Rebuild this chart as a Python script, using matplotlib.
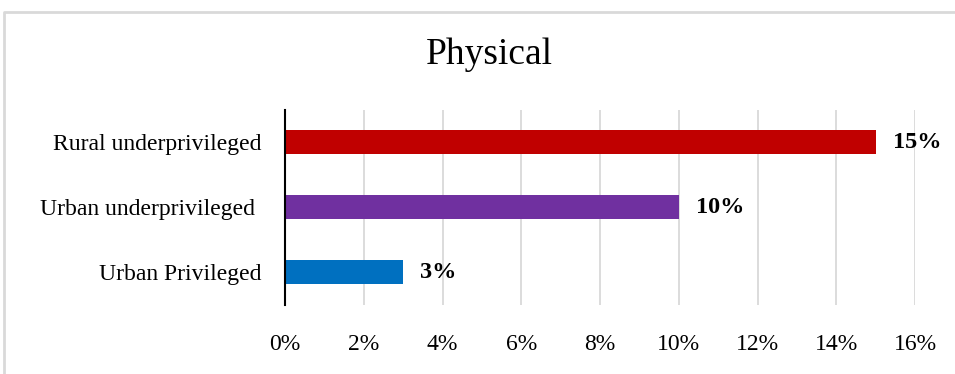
import matplotlib
matplotlib.use("Agg")
import matplotlib.pyplot as plt
from matplotlib.lines import Line2D
from matplotlib.ticker import FuncFormatter

plt.rcParams["font.family"] = ["Liberation Serif", "DejaVu Serif"]

# data (bottom to top as drawn)
groups = ["Urban Privileged", "Urban underprivileged ", "Rural underprivileged"]
values = [3, 10, 15]
colors = ["#0070C0", "#7030A0", "#C00000"]
xticks = [0, 2, 4, 6, 8, 10, 12, 14, 16]

fig = plt.figure(figsize=(9.55, 3.74), dpi=100)
ax = fig.add_axes([0.2984, 0.1858, 0.660, 0.5214])

ypos = range(len(groups))
ax.barh(ypos, values, height=0.37, color=colors, zorder=3)

for y, v in zip(ypos, values):
    ax.annotate(f"{v}%", xy=(v, y), xytext=(12, 0), textcoords="offset points",
                va="center", ha="left", fontsize=17.5, fontweight="bold")

ax.set_xlim(0, 16)
ax.set_ylim(-0.5, 2.5)
ax.set_xticks(xticks)
ax.xaxis.set_major_formatter(FuncFormatter(lambda x, p: f"{x:.0f}%"))
ax.set_yticks(list(ypos))
ax.set_yticklabels(groups)
ax.tick_params(axis="x", length=0, pad=21, labelsize=17)
ax.tick_params(axis="y", length=0, pad=17, labelsize=17)
ax.grid(axis="x", color="#D9D9D9", linewidth=1.3, zorder=0)

for s in ["top", "right", "bottom"]:
    ax.spines[s].set_visible(False)
ax.spines["left"].set_color("black")
ax.spines["left"].set_linewidth(1.5)
ax.spines["left"].set_zorder(4)

fig.text(0.512, 0.853, "Physical", ha="center", va="center", fontsize=27)

# light outer chart border (only top and left show, the rest is cropped)
fig.add_artist(Line2D([4, 4, 960], [-5, 362, 362], transform=None,
                      color="#D9D9D9", linewidth=2))

fig.savefig("out.png", dpi=100)
